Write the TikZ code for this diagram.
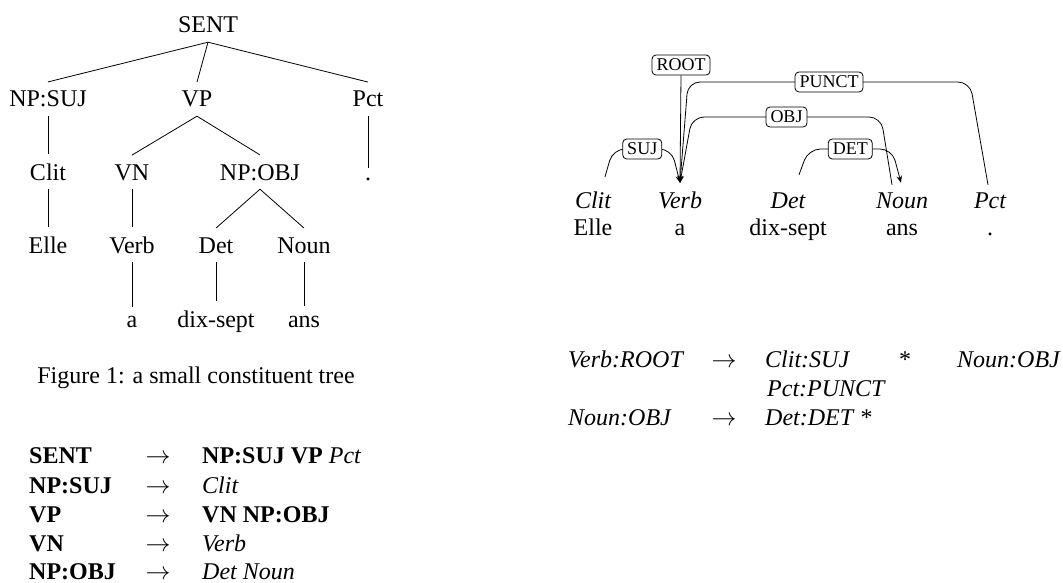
\documentclass[tikz,border=0pt]{standalone}
\usepackage{fontspec}
\setmainfont{Liberation Serif}
\usetikzlibrary{arrows.meta,calc}
\begin{document}
\begin{tikzpicture}[x=1pt,y=-1pt,
  every node/.style={font=\fontsize{24}{28}\selectfont, inner sep=0pt},
  tn/.style={anchor=base, inner xsep=2pt, inner ysep=9pt, text depth=0pt},
  tl/.style={line width=0.8pt},
  posnode/.style={anchor=base, font=\fontsize{24}{28}\selectfont\itshape, text height=16pt, text depth=0pt, inner ysep=9pt},
  wd/.style={anchor=base},
  lab/.style={draw, rounded corners=4pt, fill=white, font=\fontsize{18}{21}\selectfont, inner xsep=4.5pt, inner ysep=4pt, text height=12pt, text depth=0pt, line width=0.8pt},
  dep/.style={line width=0.8pt, rounded corners=12pt, -{Stealth[length=7pt,width=5.5pt]}},
  rl/.style={anchor=base west},
  ra/.style={anchor=base}
]
\useasboundingbox (0,0) rectangle (1063,583);

% ---------- constituent tree ----------
\node[tn] (sent)  at (208,33)  {SENT};
\node[tn] (npsuj) at (48,107)  {NP:SUJ};
\node[tn] (vp)    at (197,107) {VP};
\node[tn] (pct)   at (368,107) {Pct};
\node[tn] (clit)  at (48,180)  {Clit};
\node[tn] (vn)    at (132,180) {VN};
\node[tn] (npobj) at (260,180) {NP:OBJ};
\node[tn] (dot)   at (368,180) {.};
\node[tn] (elle)  at (48,253)  {Elle};
\node[tn] (verb)  at (132,253) {Verb};
\node[tn] (det)   at (216,253) {Det};
\node[tn] (noun)  at (304,253) {Noun};
\node[tn] (wa)    at (132,327) {a};
\node[tn] (dix)   at (216,327) {dix-sept};
\node[tn] (ans)   at (304,327) {ans};

\draw[tl] (sent.south) -- (npsuj.north);
\draw[tl] (sent.south) -- (vp.north);
\draw[tl] (sent.south) -- (pct.north);
\draw[tl] (npsuj.south) -- (clit.north);
\draw[tl] (vp.south) -- (vn.north);
\draw[tl] (vp.south) -- (npobj.north);
\draw[tl] (pct.south) -- (dot.north);
\draw[tl] (clit.south) -- (elle.north);
\draw[tl] (vn.south) -- (verb.north);
\draw[tl] (npobj.south) -- (det.north);
\draw[tl] (npobj.south) -- (noun.north);
\draw[tl] (verb.south) -- (wa.north);
\draw[tl] (det.south) -- (dix.north);
\draw[tl] (noun.south) -- (ans.north);

\node[anchor=base] (cap) at (196,383) {Figure 1: a small constituent tree};

% ---------- CFG rules ----------
\node[rl] (r1l) at (29,463) {\textbf{SENT}};
\node[ra] (r1a) at (158,463) {$\rightarrow$};
\node[rl] (r1r) at (202,463) {\textbf{NP:SUJ VP} \textit{Pct}};
\node[rl] (r2l) at (29,493) {\textbf{NP:SUJ}};
\node[ra] (r2a) at (158,493) {$\rightarrow$};
\node[rl] (r2r) at (202,493) {\textit{Clit}};
\node[rl] (r3l) at (29,522) {\textbf{VP}};
\node[ra] (r3a) at (158,522) {$\rightarrow$};
\node[rl] (r3r) at (202,522) {\textbf{VN NP:OBJ}};
\node[rl] (r4l) at (29,551) {\textbf{VN}};
\node[ra] (r4a) at (158,551) {$\rightarrow$};
\node[rl] (r4r) at (202,551) {\textit{Verb}};
\node[rl] (r5l) at (29,579) {\textbf{NP:OBJ}};
\node[ra] (r5a) at (158,579) {$\rightarrow$};
\node[rl] (r5r) at (202,579) {\textit{Det Noun}};

% ---------- dependency tree ----------
\node[posnode] (pclit) at (593,208) {Clit};
\node[posnode] (pverb) at (680,208) {Verb};
\node[posnode] (pdet)  at (788,208) {Det};
\node[posnode] (pnoun) at (902,208) {Noun};
\node[posnode] (ppct)  at (990,208) {Pct};
\node[wd] (welle) at (593,235) {Elle};
\node[wd] (wva)   at (680,235) {a};
\node[wd] (wdix)  at (788,235) {dix-sept};
\node[wd] (wans)  at (902,235) {ans};
\node[wd] (wdot)  at (990,235) {.};

\node[lab] (root) at (681,65) {ROOT};
\draw[dep, rounded corners=0pt] (root.south) -- (pverb.north);

\draw[dep] ([xshift=12pt,yshift=6pt]pclit.north) -- (613,149)
  -- node[lab] (suj) {SUJ} (671.5,149) -- (pverb.north);
\draw[dep] ([xshift=-2pt,yshift=-2pt]ppct.north) -- (970,82)
  -- node[lab] (punct) {PUNCT} (688,82) -- (pverb.north);
\draw[dep] ([xshift=-10pt,yshift=-2pt]pnoun.north) -- (881,117)
  -- node[lab] (obj) {OBJ} (692,117) -- (pverb.north);
\draw[dep] ([xshift=11pt,yshift=8pt]pdet.north) -- (808.5,149)
  -- node[lab] (detl) {DET} (892,149) -- ([xshift=-1pt]pnoun.north);

% ---------- dependency rules ----------
\node[rl] (d1l) at (568,367) {\textit{Verb:ROOT}};
\node[ra] (d1a) at (724,367) {$\rightarrow$};
\node[rl] (d1r) at (765,367) {\textit{Clit:SUJ}};
\node[ra] (d1s) at (905,367) {*};
\node[rl] (d1o) at (957,367) {\textit{Noun:OBJ}};
\node[rl] (d2r) at (767,396) {\textit{Pct:PUNCT}};
\node[rl] (d3l) at (568,425) {\textit{Noun:OBJ}};
\node[ra] (d3a) at (724,425) {$\rightarrow$};
\node[rl] (d3r) at (765,425) {\textit{Det:DET} *};
\end{tikzpicture}
\end{document}
